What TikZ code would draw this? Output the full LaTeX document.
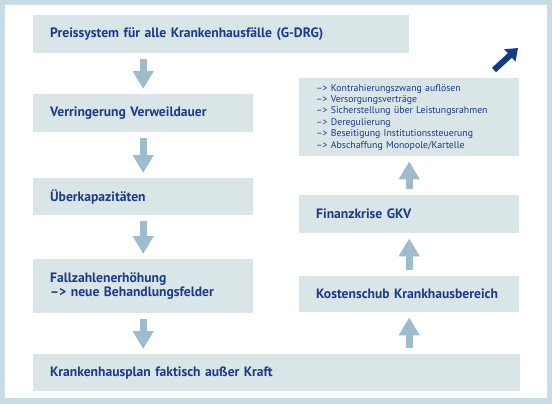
\documentclass[tikz,border=0pt]{standalone}
\usepackage{fontspec}
\setmainfont{PT Sans}
\usetikzlibrary{arrows.meta}
\definecolor{framecol}{HTML}{C7DCE4}
\definecolor{boxgrey}{HTML}{DAE5E8}
\definecolor{navy}{HTML}{1B3A8A}
\definecolor{godark}{HTML}{123A86}
\definecolor{arrowblue}{HTML}{9DBDCD}
\begin{document}
\begin{tikzpicture}[x=1pt,y=-1pt,
  box/.style={fill=boxgrey,anchor=north west,inner xsep=17pt,inner ysep=0pt,
              align=left,text=navy,font=\bfseries\fontsize{13.6}{13.5}\selectfont},
  flow/.style={draw=arrowblue,line width=7pt,-{Triangle[width=20pt,length=18pt]},
               shorten <=6pt,shorten >=5pt},
  goarrow/.style={draw=godark,line width=6pt,-{Triangle[width=16pt,length=11pt]}}]
\useasboundingbox (0,0) rectangle (552,404);
\fill[framecol] (0,0) rectangle (552,404);
\fill[white] (5,5) rectangle (547,398);
%\tikzset{every node/.style={draw=navy}}
\node[box,minimum height=38pt,text width=342pt] (pg) at (33,15)
    {Preissystem für alle Krankenhausfälle (G-DRG)};
\node[box,minimum height=38pt,text width=186pt] (vw) at (33,94)
    {Verringerung Verweildauer};
\node[box,minimum height=37pt,text width=186pt] (uk) at (33,178)
    {Überkapazitäten};
\node[box,minimum height=54pt,text width=186pt] (fz) at (33,259)
    {Fallzahlenerhöhung\\–> neue Behandlungsfelder};
\node[box,minimum height=37pt,text width=453pt] (kp) at (33,354)
    {Krankenhausplan faktisch außer Kraft};
\node[box,minimum height=36pt,text width=186pt] (ks) at (299,276)
    {Kostenschub Krankhausbereich};
\node[box,minimum height=38pt,text width=186pt] (fk) at (299,195)
    {Finanzkrise GKV};
\node[box,minimum height=78pt,text width=186pt,
      font=\fontsize{9.8}{11.4}\selectfont] (li) at (299,78)
    {–> Kontrahierungszwang auflösen\\
     –> Versorgungsverträge\\
     –> Sicherstellung über Leistungsrahmen\\
     –> Deregulierung\\
     –> Beseitigung Institutionssteuerung\\
     –> Abschaffung Monopole/Kartelle};
% links nach unten
\draw[flow] (pg.south -| vw.south) -- (vw.north);
\draw[flow] (vw.south) -- (uk.north);
\draw[flow] (uk.south) -- (fz.north);
\draw[flow] (fz.south) -- (kp.north -| fz.south);
% rechts nach oben
\draw[flow] (kp.north -| ks.south) -- (ks.south);
\draw[flow] (ks.north) -- (fk.south);
\draw[flow] (fk.north) -- (li.south);
\coordinate (gofrom) at (494,70);
\coordinate (goto) at (518,48);
\draw[goarrow] (gofrom) -- (goto);
\end{tikzpicture}
\end{document}
